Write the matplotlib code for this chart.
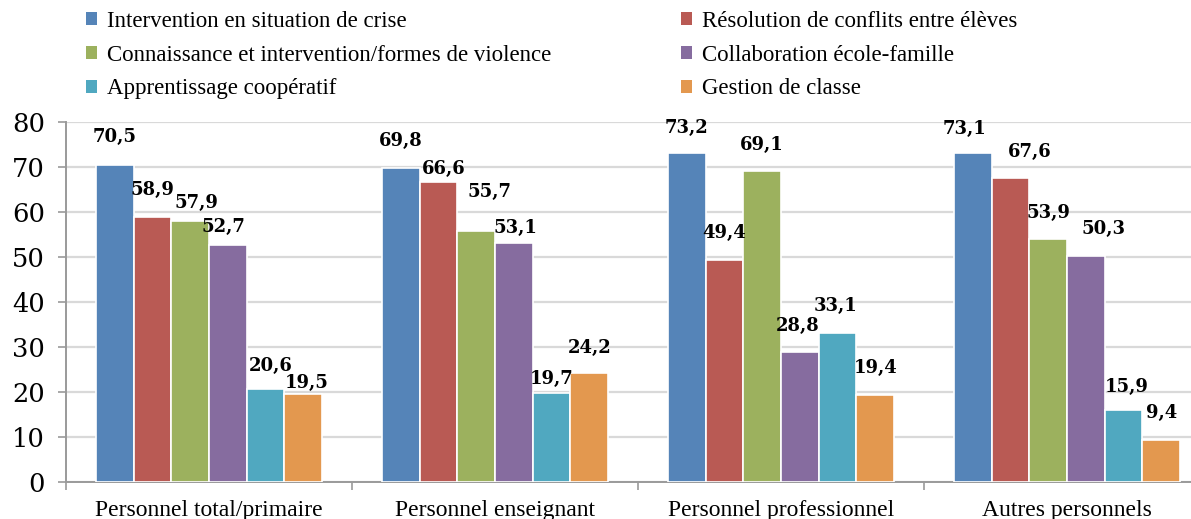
import matplotlib
matplotlib.use("Agg")
import matplotlib.pyplot as plt
import numpy as np
from matplotlib.patches import Patch

# --- data -------------------------------------------------------------------
CATEGORIES = [
    "Personnel total/primaire",
    "Personnel enseignant",
    "Personnel professionnel",
    "Autres personnels",
]
SERIES = [
    "Intervention en situation de crise",
    "Résolution de conflits entre élèves",
    "Connaissance et intervention/formes de violence",
    "Collaboration école-famille",
    "Apprentissage coopératif",
    "Gestion de classe",
]
# one row per series, one column per category
VALUES = [
    [70.5, 69.8, 73.2, 73.1],
    [58.9, 66.6, 49.4, 67.6],
    [57.9, 55.7, 69.1, 53.9],
    [52.7, 53.1, 28.8, 50.3],
    [20.6, 19.7, 33.1, 15.9],
    [19.5, 24.2, 19.4, 9.4],
]
Y_TICKS = [0, 10, 20, 30, 40, 50, 60, 70, 80]

# --- style ------------------------------------------------------------------
COLORS = ["#5584B8", "#B95A54", "#9CB15E", "#866C9F", "#50A8C0", "#E3984F"]
TEXT_FONT = ["Liberation Serif", "DejaVu Serif"]
NUM_FONT = ["DejaVu Serif"]

# label offsets in pixels (dx, dy of label centre above bar top), per series x category
LABEL_DX = [
    [0, 0, 0, -8],
    [0, 5, 0, 19],
    [6, 13, 0, 0],
    [-4, 2, -2, 18],
    [5, 0, -2, 3],
    [3, 0, 0, 0],
]
LABEL_DY = [
    [28, 27, 25, 24],
    [27, 13, 27, 26],
    [18, 39, 26, 26],
    [18, 15, 26, 27],
    [23, 14, 27, 23],
    [11, 25, 27, 27],
]

W, H = 1191, 519
fig = plt.figure(figsize=(W / 100, H / 100), dpi=100)
# axes extend slightly past the right edge, as in the original
ax = fig.add_axes([66 / W, 37 / H, 1144 / W, 360 / H])

n = len(SERIES)
bar_w = 0.1318
x = np.arange(len(CATEGORIES))

for i, (name, vals) in enumerate(zip(SERIES, VALUES)):
    pos = x + (i - (n - 1) / 2) * bar_w
    ax.bar(pos, vals, bar_w, color=COLORS[i], edgecolor="white",
           linewidth=1.2, zorder=3, label=name)
    for j, v in enumerate(vals):
        ax.annotate(f"{v:.1f}".replace(".", ","), (pos[j], v),
                    xytext=(LABEL_DX[i][j], LABEL_DY[i][j]),
                    textcoords="offset pixels",
                    ha="center", va="center", fontsize=13,
                    fontweight="bold", family=NUM_FONT, color="black",
                    zorder=5)

ax.set_xlim(-0.5, len(CATEGORIES) - 0.5)
ax.set_ylim(0, 80)
ax.set_yticks(Y_TICKS)
ax.set_yticklabels([str(t) for t in Y_TICKS], family=NUM_FONT, fontsize=18.5)
ax.yaxis.grid(True, color="#D9D9D9", linewidth=1.6, zorder=0)
ax.set_axisbelow(True)

# divider ticks between groups, labels centred under groups
ax.set_xticks(np.arange(len(CATEGORIES) + 1) - 0.5)
ax.set_xticklabels([])
ax.set_xticks(x, minor=True)
ax.set_xticklabels(CATEGORIES, minor=True, family=TEXT_FONT, fontsize=17)
ax.tick_params(axis="x", which="minor", length=0, pad=13)
ax.tick_params(axis="x", which="major", length=6, color="#9A9A9A", width=1.2)
ax.tick_params(axis="y", length=6, color="#9A9A9A", width=1.2, pad=9)

for side in ("top", "right"):
    ax.spines[side].set_visible(False)
for side in ("left", "bottom"):
    ax.spines[side].set_color("#9A9A9A")
    ax.spines[side].set_linewidth(1.4)

# legend: two columns laid out row by row
handles = [Patch(facecolor=c, edgecolor="none") for c in COLORS]
leg_kw = dict(loc="upper left", frameon=False, borderpad=0, borderaxespad=0,
              handlelength=0.5, handleheight=0.5, handletextpad=0.4,
              labelspacing=0.55, prop={"family": TEXT_FONT, "size": 16.5})
fig.legend(handles[0::2], SERIES[0::2], bbox_to_anchor=(86 / W, 1 - 11 / H), **leg_kw)
fig.legend(handles[1::2], SERIES[1::2], bbox_to_anchor=(681 / W, 1 - 11 / H), **leg_kw)

fig.savefig("out.png", dpi=100, facecolor="white")
